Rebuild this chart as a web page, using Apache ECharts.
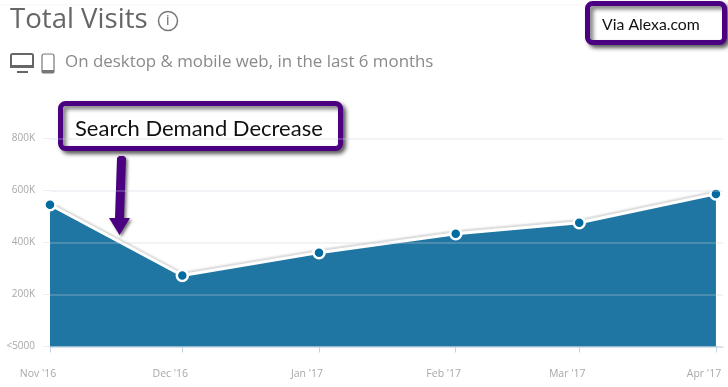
<!DOCTYPE html>
<html>
<head>
<meta charset="utf-8">
<style>
  html, body { margin: 0; padding: 0; background: #fff; }
  #chart { width: 728px; height: 387px; }
</style>
<script src="https://cdn.jsdelivr.net/npm/echarts@6/dist/echarts.min.js"></script>
</head>
<body>
<div id="chart"></div>
<script>
const dates = ['2016-11-01', '2016-12-01', '2017-01-01', '2017-02-01', '2017-03-01', '2017-04-01'];
const monthLabels = ["Nov '16", "Dec '16", "Jan '17", "Feb '17", "Mar '17", "Apr '17"];
const visits = [545000, 273000, 361000, 434000, 476000, 587000];
const yTicks = [0, 200000, 400000, 600000, 800000];
const yLabels = ['<5000', '200K', '400K', '600K', '800K'];

const purple = '#4b0082';
// months are unevenly long, so the x axis runs in days since the first point
const days = dates.map(d => (Date.parse(d) - Date.parse(dates[0])) / 86400000);

const box = (x, y, w, h) => ({
  type: 'rect',
  shape: { x, y, width: w, height: h, r: 5 },
  style: {
    fill: '#fff', stroke: purple, lineWidth: 5,
    shadowBlur: 4, shadowOffsetX: 3, shadowOffsetY: 3, shadowColor: 'rgba(0,0,0,0.55)'
  }
});
const label = (x, y, text, fontSize, fill, fontFamily) => ({
  type: 'text', x, y,
  style: { text, fontSize, fill, fontFamily, verticalAlign: 'middle' }
});

const chart = echarts.init(document.getElementById('chart'));
chart.setOption({
  animation: false,
  backgroundColor: '#fff',
  grid: { left: 50, right: 5, top: 138.5, bottom: 40.5 },
  xAxis: {
    type: 'value',
    min: 0,
    max: days[5] + 1.6,
    splitLine: { show: false },
    axisLine: { lineStyle: { color: '#d5e1ea', width: 1.5 } },
    axisTick: { customValues: days, length: 6, lineStyle: { color: '#c3d5e2' } },
    axisLabel: {
      customValues: days,
      color: '#a8a8a8',
      fontSize: 10.5,
      fontFamily: 'Open Sans',
      margin: 22,
      padding: [0, 24, 0, 0],
      formatter: v => monthLabels[days.indexOf(v)]
    }
  },
  yAxis: {
    type: 'value',
    min: 0,
    max: 800000,
    interval: 200000,
    z: 5,
    axisLine: { show: false },
    axisTick: { show: true, length: 7, lineStyle: { color: '#eeeeee' } },
    splitLine: { lineStyle: { color: 'rgba(200,210,220,0.35)', width: 1.5 } },
    axisLabel: {
      color: '#a8a8a8',
      fontSize: 10,
      fontFamily: 'Open Sans',
      margin: 15,
      formatter: v => yLabels[yTicks.indexOf(v)]
    }
  },
  series: [{
    type: 'line',
    z: 2,
    clip: false,
    data: days.map((d, i) => [d, visits[i]]),
    showAllSymbol: true,
    symbol: 'circle',
    symbolSize: 11,
    itemStyle: { color: '#006b9e', borderColor: '#fff', borderWidth: 2.5, opacity: 1 },
    lineStyle: {
      color: '#fff', width: 3,
      shadowColor: 'rgba(0,0,0,0.16)', shadowBlur: 2, shadowOffsetY: -2
    },
    areaStyle: { color: '#2076a3', opacity: 1 }
  }],
  graphic: [
    { type: 'line', shape: { x1: 0, y1: 5, x2: 580, y2: 5 }, style: { stroke: '#f6f6f6', lineWidth: 1 } },
    label(10, 20, 'Total Visits', 27.6, '#666', 'Open Sans'),
    { type: 'circle', shape: { cx: 168, cy: 21, r: 9.5 }, style: { fill: '#fff', stroke: '#777', lineWidth: 1.5 } },
    label(166, 21.5, 'i', 14, '#666', 'Open Sans'),

    // monitor
    { type: 'rect', shape: { x: 11, y: 54, width: 22, height: 13, r: 1.5 }, style: { fill: '#fff', stroke: '#666', lineWidth: 2 } },
    { type: 'rect', shape: { x: 10, y: 65, width: 24, height: 3 }, style: { fill: '#666' } },
    { type: 'rect', shape: { x: 17, y: 71, width: 11, height: 2 }, style: { fill: '#666' } },
    // phone
    { type: 'rect', shape: { x: 42, y: 54, width: 12, height: 19, r: 2 }, style: { fill: '#fff', stroke: '#777', lineWidth: 1.2 } },
    { type: 'rect', shape: { x: 42, y: 70, width: 12, height: 3 }, style: { fill: '#777' } },
    label(65, 62, 'On desktop & mobile web, in the last 6 months', 16.9, '#8a8a8a', 'Open Sans'),

    box(60.5, 103.5, 280, 45),
    label(75, 129, 'Search Demand Decrease', 22, '#111', 'Lato'),
    box(587.5, 3.5, 137, 39),
    label(602, 25, 'Via Alexa.com', 15.8, '#111', 'Lato'),

    // arrow pointing at the drop
    {
      type: 'polygon',
      shape: { points: [[117, 158], [119, 156], [124, 156], [126, 158], [124, 218], [130, 218], [119.5, 235], [109, 218], [115, 218]] },
      style: { fill: purple, shadowBlur: 3, shadowOffsetX: 2, shadowOffsetY: 2, shadowColor: 'rgba(0,0,0,0.5)' }
    }
  ]
});
</script>
</body>
</html>
